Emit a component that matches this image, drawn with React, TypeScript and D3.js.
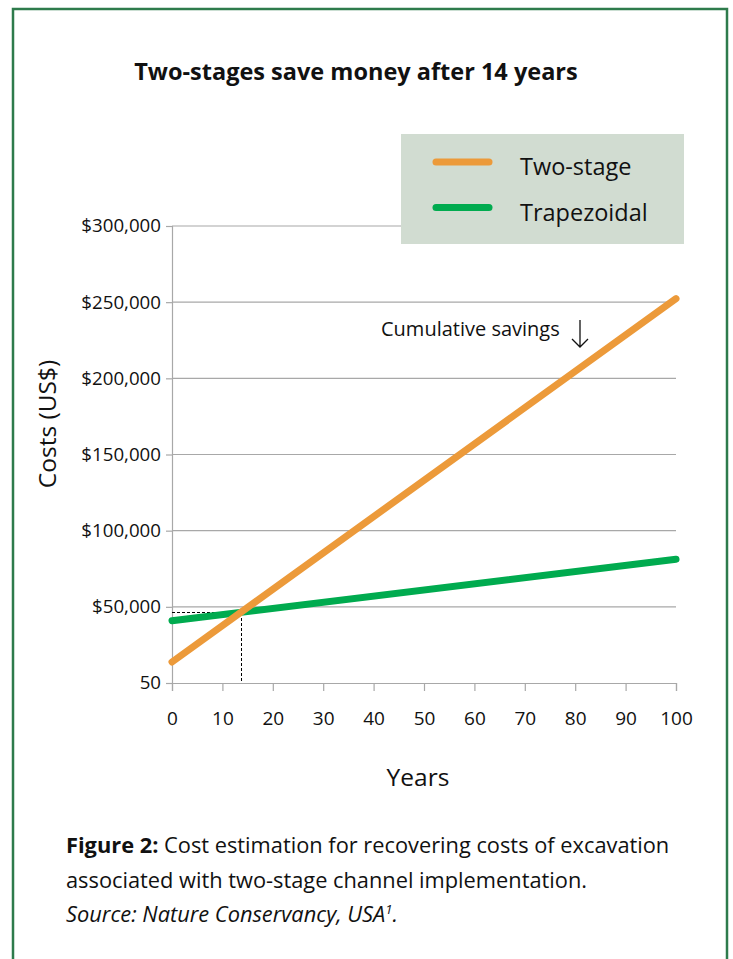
import * as d3 from 'd3';
import { useEffect, useRef } from 'react';

// chart values
const years = [0, 100];
const twoStage = [13800, 252300];
const trapezoidal = [40900, 81300];
const breakEven = [13.7, 46600];
const yTicks = [0, 50000, 100000, 150000, 200000, 250000, 300000];
const yTickLabels = ['50', '$50,000', '$100,000', '$150,000', '$200,000', '$250,000', '$300,000'];
const xTicks = [0, 10, 20, 30, 40, 50, 60, 70, 80, 90, 100];
const seriesNames = ['Two-stage', 'Trapezoidal'];
const seriesColors = ['#ec9a3a', '#00ab4f'];

const W = 733;
const H = 959;
const FONT = "'Open Sans', 'Noto Sans', sans-serif";

export default function App() {
  const svgRef = useRef<SVGSVGElement>(null);

  useEffect(() => {
    const svg = d3.select(svgRef.current);
    svg.selectAll('*').remove();

    const x = d3.scaleLinear().domain([0, 100]).range([172, 676]);
    const y = d3.scaleLinear().domain([0, 300000]).range([683, 226]);

    // frame
    svg
      .append('rect')
      .attr('x', 13)
      .attr('y', 9)
      .attr('width', 714)
      .attr('height', 1000)
      .attr('fill', 'none')
      .attr('stroke', '#2e7b4c')
      .attr('stroke-width', 2.5);

    svg
      .append('text')
      .attr('x', 356)
      .attr('y', 80)
      .attr('text-anchor', 'middle')
      .style('font-family', FONT)
      .style('font-weight', 'bold')
      .style('font-size', '23.5px')
      .attr('fill', '#111')
      .text('Two-stages save money after 14 years');

    // grid
    svg
      .selectAll('.grid')
      .data(yTicks.slice(1))
      .join('line')
      .attr('class', 'grid')
      .attr('x1', x(0))
      .attr('x2', x(100))
      .attr('y1', (d) => y(d))
      .attr('y2', (d) => y(d))
      .attr('stroke', '#a8a8a8')
      .attr('stroke-width', 1.2);

    // y axis
    const yAxis = svg
      .append('g')
      .attr('transform', `translate(${x(0)},0)`)
      .call(
        d3
          .axisLeft(y)
          .tickValues(yTicks)
          .tickSize(6)
          .tickPadding(5)
          .tickFormat((_, i) => yTickLabels[i])
      );
    yAxis.selectAll('.domain').attr('stroke', '#a8a8a8').attr('stroke-width', 1.2);
    yAxis.selectAll('.tick line').attr('stroke', '#a8a8a8').attr('stroke-width', 1.2);
    yAxis
      .selectAll('.tick text')
      .attr('fill', '#111')
      .style('font-family', FONT)
      .style('font-size', '18.7px');

    // x axis
    const xAxis = svg
      .append('g')
      .attr('transform', `translate(0,${y(0)})`)
      .call(d3.axisBottom(x).tickValues(xTicks).tickSize(8).tickPadding(21).tickFormat(d3.format('d')));
    xAxis.selectAll('.domain').attr('stroke', '#a8a8a8').attr('stroke-width', 1.2);
    xAxis.selectAll('.tick line').attr('stroke', '#a8a8a8').attr('stroke-width', 1.2);
    xAxis
      .selectAll('.tick text')
      .attr('fill', '#111')
      .style('font-family', FONT)
      .style('font-size', '19px');

    // axis titles
    svg
      .append('text')
      .attr('transform', `translate(56,${424}) rotate(-90)`)
      .attr('text-anchor', 'middle')
      .style('font-family', FONT)
      .style('font-size', '24.5px')
      .attr('fill', '#111')
      .text('Costs (US$)');
    svg
      .append('text')
      .attr('x', 418)
      .attr('y', 786)
      .attr('text-anchor', 'middle')
      .style('font-family', FONT)
      .style('font-size', '24.5px')
      .attr('fill', '#111')
      .text('Years');

    // legend box (covers the top gridline)
    const legend = svg.append('g');
    legend
      .append('rect')
      .attr('x', 401)
      .attr('y', 134)
      .attr('width', 283)
      .attr('height', 110)
      .attr('fill', '#d1dcd1');
    seriesNames.forEach((name, i) => {
      const ly = 162 + i * 45.5;
      legend
        .append('line')
        .attr('x1', 436)
        .attr('x2', 489)
        .attr('y1', ly)
        .attr('y2', ly)
        .attr('stroke', seriesColors[i])
        .attr('stroke-width', 7)
        .attr('stroke-linecap', 'round');
      legend
        .append('text')
        .attr('x', 520)
        .attr('y', ly + 13)
        .style('font-family', FONT)
        .style('font-size', '23.5px')
        .attr('fill', '#111')
        .text(name);
    });

    // break-even guide lines
    svg
      .append('path')
      .attr('d', `M${x(0)},${Math.round(y(breakEven[1])) + 0.5}H${Math.round(x(breakEven[0])) + 0.5}V${y(0)}`)
      .attr('fill', 'none')
      .attr('stroke', '#000')
      .attr('stroke-width', 1)
      .attr('stroke-dasharray', '3,2');

    // series
    const line = d3
      .line<[number, number]>()
      .x((d) => x(d[0]))
      .y((d) => y(d[1]));
    [trapezoidal, twoStage].forEach((vals, i) => {
      svg
        .append('path')
        .datum(years.map((yr, j) => [yr, vals[j]] as [number, number]))
        .attr('d', line)
        .attr('fill', 'none')
        .attr('stroke', seriesColors[1 - i])
        .attr('stroke-width', 7)
        .attr('stroke-linecap', 'round');
    });

    // annotation
    svg
      .append('text')
      .attr('x', 381)
      .attr('y', 336)
      .style('font-family', FONT)
      .style('font-size', '20px')
      .attr('fill', '#111')
      .text('Cumulative savings');
    svg
      .append('path')
      .attr('d', 'M580,320V347M572,339L580,347L588,339')
      .attr('fill', 'none')
      .attr('stroke', '#111')
      .attr('stroke-width', 1.3);

    // caption
    const cap = svg
      .append('text')
      .attr('x', 66)
      .attr('y', 853)
      .style('font-family', FONT)
      .style('font-size', '21.8px')
      .attr('fill', '#111');
    cap.append('tspan').style('font-weight', 'bold').text('Figure 2:');
    cap.append('tspan').text(' Cost estimation for recovering costs of excavation');
    svg
      .append('text')
      .attr('x', 66)
      .attr('y', 888)
      .style('font-family', FONT)
      .style('font-size', '21.8px')
      .attr('fill', '#111')
      .text('associated with two-stage channel implementation.');
    const src = svg
      .append('text')
      .attr('x', 66)
      .attr('y', 922)
      .style('font-family', FONT)
      .style('font-size', '21.8px')
      .style('font-style', 'italic')
      .attr('fill', '#111');
    src.append('tspan').text('Source: Nature Conservancy, USA');
    src.append('tspan').attr('dy', -8).style('font-size', '13px').text('1');
    src.append('tspan').attr('dy', 8).text('.');
  }, []);

  return (
    <svg
      ref={svgRef}
      width={W}
      height={H}
      style={{ position: 'absolute', left: 0, top: 0, background: '#fff' }}
    />
  );
}
